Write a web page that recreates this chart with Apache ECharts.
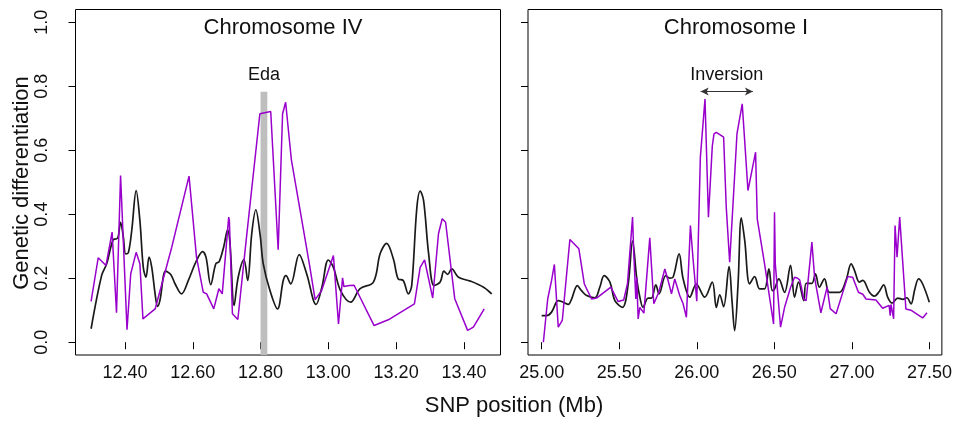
<!DOCTYPE html>
<html>
<head>
<meta charset="utf-8">
<script src="https://cdn.jsdelivr.net/npm/echarts@6/dist/echarts.min.js"></script>
<style>html,body{margin:0;padding:0;background:#fff}#c{width:955px;height:421px}</style>
</head>
<body>
<div id="c"></div>
<script>
// ---------- data ----------
var panelTitles = ['Chromosome IV', 'Chromosome I'];
var yTicks = [0, 0.2, 0.4, 0.6, 0.8, 1.0];
var chr4Ticks = [12.40, 12.60, 12.80, 13.00, 13.20, 13.40];
var chr1Ticks = [25.00, 25.50, 26.00, 26.50, 27.00, 27.50];

// Chromosome IV, purple series
var chr4PurplePos = [12.300,12.321,12.344,12.362,12.365,12.375,12.387,12.406,12.417,12.433,12.444,12.453,12.489,12.538,12.589,12.611,12.631,12.641,12.662,12.677,12.682,12.687,12.706,12.708,12.717,12.733,12.757,12.798,12.830,12.852,12.865,12.874,12.891,12.944,12.961,12.980,13.015,13.030,13.042,13.046,13.062,13.076,13.135,13.177,13.254,13.271,13.284,13.308,13.325,13.336,13.346,13.373,13.411,13.428,13.460];
var chr4PurpleVal = [0.128,0.264,0.240,0.344,0.344,0.092,0.521,0.039,0.214,0.281,0.245,0.073,0.104,0.297,0.519,0.266,0.156,0.151,0.104,0.167,0.170,0.151,0.391,0.380,0.089,0.071,0.313,0.714,0.721,0.289,0.714,0.750,0.570,0.245,0.133,0.161,0.271,0.057,0.201,0.174,0.177,0.178,0.052,0.070,0.120,0.234,0.257,0.138,0.339,0.386,0.375,0.136,0.037,0.047,0.104];

// Chromosome IV, black series
var chr4BlackPos = [12.300,12.331,12.346,12.365,12.375,12.380,12.387,12.395,12.402,12.410,12.420,12.433,12.444,12.454,12.462,12.471,12.479,12.489,12.496,12.503,12.520,12.535,12.548,12.567,12.587,12.609,12.629,12.639,12.653,12.668,12.678,12.691,12.703,12.710,12.722,12.734,12.751,12.762,12.774,12.786,12.799,12.808,12.828,12.850,12.867,12.875,12.889,12.914,12.936,12.964,12.981,13.000,13.015,13.036,13.066,13.093,13.133,13.153,13.172,13.192,13.206,13.221,13.236,13.246,13.261,13.271,13.281,13.296,13.312,13.330,13.341,13.352,13.364,13.384,13.419,13.458,13.482];
var chr4BlackVal = [0.042,0.208,0.245,0.320,0.323,0.330,0.375,0.330,0.276,0.280,0.350,0.474,0.380,0.234,0.203,0.266,0.234,0.150,0.112,0.130,0.222,0.212,0.182,0.151,0.193,0.250,0.283,0.266,0.180,0.245,0.252,0.297,0.351,0.307,0.115,0.203,0.258,0.193,0.339,0.414,0.333,0.245,0.161,0.104,0.193,0.208,0.182,0.274,0.214,0.118,0.172,0.257,0.234,0.161,0.125,0.167,0.188,0.277,0.309,0.260,0.198,0.193,0.151,0.177,0.418,0.472,0.443,0.276,0.177,0.188,0.222,0.212,0.229,0.203,0.191,0.172,0.151];

// Chromosome I, purple series
var chr1PurplePos = [25.011,25.039,25.064,25.082,25.107,25.133,25.182,25.240,25.275,25.322,25.354,25.446,25.493,25.529,25.553,25.586,25.594,25.607,25.613,25.622,25.633,25.659,25.697,25.723,25.755,25.794,25.815,25.837,25.858,25.890,25.912,25.933,25.959,25.976,26.000,26.012,26.023,26.053,26.075,26.100,26.111,26.126,26.173,26.190,26.212,26.244,26.259,26.293,26.330,26.379,26.390,26.437,26.469,26.495,26.501,26.506,26.540,26.566,26.605,26.630,26.650,26.663,26.675,26.690,26.705,26.742,26.760,26.800,26.840,26.860,26.898,26.973,27.005,27.042,27.070,27.091,27.155,27.198,27.240,27.247,27.252,27.269,27.278,27.291,27.308,27.348,27.380,27.456,27.484];
var chr1PurpleVal = [0.000,0.135,0.193,0.243,0.047,0.068,0.321,0.292,0.182,0.135,0.138,0.172,0.127,0.132,0.182,0.391,0.276,0.135,0.203,0.073,0.109,0.091,0.326,0.120,0.156,0.229,0.193,0.151,0.198,0.146,0.120,0.078,0.365,0.260,0.128,0.125,0.578,0.760,0.391,0.613,0.651,0.656,0.641,0.422,0.250,0.521,0.651,0.745,0.474,0.594,0.385,0.245,0.141,0.057,0.406,0.245,0.047,0.109,0.172,0.203,0.200,0.195,0.170,0.135,0.130,0.313,0.200,0.092,0.172,0.105,0.089,0.205,0.203,0.156,0.150,0.135,0.132,0.106,0.115,0.083,0.118,0.073,0.365,0.266,0.391,0.104,0.100,0.076,0.092];

// Chromosome I, black series
var chr1BlackPos = [25.000,25.032,25.064,25.107,25.139,25.172,25.193,25.230,25.257,25.290,25.343,25.375,25.403,25.440,25.472,25.521,25.558,25.586,25.612,25.629,25.654,25.686,25.708,25.736,25.757,25.800,25.826,25.847,25.886,25.912,25.955,25.997,26.051,26.100,26.126,26.148,26.173,26.208,26.227,26.244,26.266,26.287,26.309,26.341,26.373,26.405,26.437,26.465,26.487,26.502,26.529,26.566,26.604,26.630,26.656,26.690,26.705,26.742,26.765,26.790,26.823,26.855,26.920,26.963,26.995,27.017,27.048,27.070,27.113,27.145,27.173,27.205,27.231,27.259,27.296,27.328,27.354,27.381,27.405,27.430,27.456,27.499];
var chr1BlackVal = [0.083,0.083,0.094,0.130,0.125,0.118,0.135,0.177,0.161,0.146,0.139,0.172,0.208,0.188,0.130,0.109,0.182,0.316,0.203,0.151,0.109,0.138,0.138,0.179,0.151,0.208,0.200,0.203,0.276,0.198,0.141,0.182,0.141,0.188,0.109,0.148,0.111,0.236,0.130,0.036,0.182,0.389,0.318,0.182,0.205,0.167,0.167,0.229,0.161,0.167,0.198,0.156,0.240,0.141,0.188,0.130,0.184,0.184,0.214,0.172,0.198,0.156,0.156,0.195,0.245,0.224,0.188,0.193,0.156,0.144,0.156,0.179,0.140,0.122,0.138,0.134,0.139,0.120,0.165,0.198,0.182,0.125];

// annotations
var edaRegion = [12.80, 12.82];
var edaTop = 0.783;
var inversionRange = [26.025, 26.362];
var inversionY = 0.784;

// ---------- chart ----------
function pairs(xs, ys) { return xs.map(function (x, i) { return [x, ys[i]]; }); }
var PURPLE = '#9900CC', BLACK = '#1a1a1a';
var FONT = '"Liberation Sans", Arial, sans-serif';

var chart = echarts.init(document.getElementById('c'), null, { renderer: 'canvas' });

function xAxisFor(idx, min, max, ticks) {
  return {
    type: 'value', gridIndex: idx, min: min, max: max,
    axisLine: { show: false },
    splitLine: { show: false },
    axisTick: { show: true, inside: false, length: 7, lineStyle: { color: '#000', width: 1 }, customValues: ticks },
    axisLabel: { show: true, margin: 9, color: '#111', fontFamily: FONT, fontSize: 18,
      customValues: ticks, formatter: function (v) { return v.toFixed(2); } }
  };
}
function yAxisFor(idx, showLabels) {
  return {
    type: 'value', gridIndex: idx, min: -0.04, max: 1.04,
    axisLine: { show: false },
    splitLine: { show: false },
    axisTick: { show: true, inside: false, length: 7, lineStyle: { color: '#000', width: 1 }, customValues: yTicks },
    axisLabel: { show: showLabels, rotate: 90, margin: 24, color: '#111', fontFamily: FONT, fontSize: 18,
      customValues: yTicks, formatter: function (v) { return v.toFixed(1); } }
  };
}

var option = {
  animation: false,
  backgroundColor: '#fff',
  title: [
    { text: panelTitles[0], left: 283, top: 17, textAlign: 'center', padding: 0,
      textStyle: { fontFamily: FONT, fontSize: 22, fontWeight: 'normal', color: '#111' } },
    { text: panelTitles[1], left: 736, top: 17, textAlign: 'center', padding: 0,
      textStyle: { fontFamily: FONT, fontSize: 22, fontWeight: 'normal', color: '#111' } },
    { text: 'SNP position (Mb)', left: 514, top: 395, textAlign: 'center', padding: 0,
      textStyle: { fontFamily: FONT, fontSize: 22, fontWeight: 'normal', color: '#111' } }
  ],
  graphic: [
    { type: 'text', x: 22, y: 183, rotation: Math.PI / 2,
      style: { text: 'Genetic differentiation', fontFamily: FONT, fontSize: 22, fill: '#111',
        textAlign: 'center', textVerticalAlign: 'middle' } }
  ],
  grid: [
    { left: 75.5, right: 454.5, top: 9.5, bottom: 66, show: true, borderColor: '#000', borderWidth: 1, backgroundColor: 'transparent' },
    { left: 528, right: 12.5, top: 9.5, bottom: 66, show: true, borderColor: '#000', borderWidth: 1, backgroundColor: 'transparent' }
  ],
  xAxis: [
    xAxisFor(0, 12.254, 13.508, chr4Ticks),
    xAxisFor(1, 24.912, 27.580, chr1Ticks)
  ],
  yAxis: [ yAxisFor(0, true), yAxisFor(1, false) ],
  series: [
    { type: 'line', xAxisIndex: 0, yAxisIndex: 0, data: [], silent: true, z: 1,
      markArea: { silent: true, itemStyle: { color: '#BEBEBE', opacity: 1 },
        label: { show: true, position: 'top', distance: 8, formatter: 'Eda', color: '#111', fontFamily: FONT, fontSize: 18 },
        data: [[ { coord: [edaRegion[0], -0.04] }, { coord: [edaRegion[1], edaTop] } ]] } },
    { type: 'line', xAxisIndex: 0, yAxisIndex: 0, data: pairs(chr4BlackPos, chr4BlackVal), smooth: 0.35,
      showSymbol: false, symbol: 'none', lineStyle: { color: BLACK, width: 1.7 }, z: 3 },
    { type: 'line', xAxisIndex: 0, yAxisIndex: 0, data: pairs(chr4PurplePos, chr4PurpleVal), smooth: false,
      showSymbol: false, symbol: 'none', lineStyle: { color: PURPLE, width: 1.5 }, z: 4 },
    { type: 'line', xAxisIndex: 1, yAxisIndex: 1, data: pairs(chr1BlackPos, chr1BlackVal), smooth: 0.35,
      showSymbol: false, symbol: 'none', lineStyle: { color: BLACK, width: 1.7 }, z: 3 },
    { type: 'line', xAxisIndex: 1, yAxisIndex: 1, data: pairs(chr1PurplePos, chr1PurpleVal), smooth: false,
      showSymbol: false, symbol: 'none', lineStyle: { color: PURPLE, width: 1.5 }, z: 4,
      markLine: { silent: true, symbol: ['arrow', 'arrow'], symbolSize: [6, 8],
        lineStyle: { color: '#333', width: 1, type: 'solid' },
        label: { show: true, position: 'middle', distance: 7, formatter: 'Inversion', color: '#111', fontFamily: FONT, fontSize: 18 },
        data: [[ { coord: [inversionRange[0], inversionY] }, { coord: [inversionRange[1], inversionY] } ]] } }
  ]
};
chart.setOption(option);
</script>
</body>
</html>
